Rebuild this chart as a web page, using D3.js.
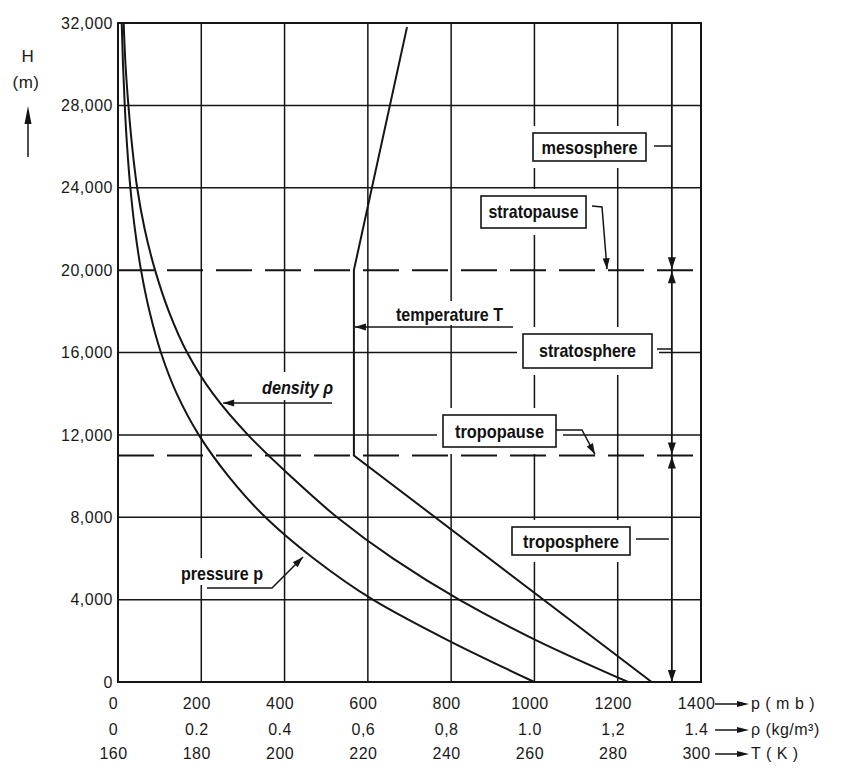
<!DOCTYPE html>
<html>
<head>
<meta charset="utf-8">
<script src="https://cdn.jsdelivr.net/npm/d3@7/dist/d3.min.js"></script>
<style>
  body { margin: 0; background: #fff; }
  svg { display: block; }
  .tick-label { font-family: "Liberation Sans", Arial, sans-serif; font-size: 16px; fill: #1a1a1a; letter-spacing: 0.5px; }
  .note { font-family: "Liberation Sans Narrow", "Liberation Sans", Arial, sans-serif; font-weight: bold; font-size: 19px; fill: #111; }
</style>
</head>
<body>
<div id="chart"></div>
<script>
// ---- data (standard atmosphere) ----
const heights = [0, 2000, 4000, 6000, 8000, 10000, 12000, 14000, 16000, 18000, 20000, 22000, 24000, 26000, 28000, 30000, 32000];
const pressure = [1000, 795, 612, 470, 354, 265, 194, 141, 103, 75.6, 55.3, 40.5, 29.7, 21.9, 16.2, 12.0, 8.9];   // mb
const density = [1.225, 1.007, 0.819, 0.660, 0.526, 0.414, 0.312, 0.228, 0.166, 0.122, 0.089, 0.064, 0.046, 0.034, 0.025, 0.018, 0.0136]; // kg/m3
const tempHeights = [0, 11000, 20000, 31800];
const temperature = [288.15, 216.65, 216.65, 229.4]; // K

const heightTicks = [0, 4000, 8000, 12000, 16000, 20000, 24000, 28000, 32000];
const pressureTicks = [0, 200, 400, 600, 800, 1000, 1200, 1400];
const densityTicks = [0, 0.2, 0.4, 0.6, 0.8, 1.0, 1.2, 1.4];
const densityTickLabels = ["0", "0.2", "0.4", "0,6", "0,8", "1.0", "1,2", "1.4"];
const tempTicks = [160, 180, 200, 220, 240, 260, 280, 300];

const tropopause = 11000;
const stratopause = 20000;
const layerAxisP = 1330; // pressure value where the layer arrows run

// ---- layout ----
const W = 844, H = 782;
const plotL = 118, plotR = 701, plotT = 23, plotB = 682;

const svg = d3.select("#chart").append("svg").attr("width", W).attr("height", H);

const y = d3.scaleLinear().domain([0, 32000]).range([plotB, plotT]);
const xP = d3.scaleLinear().domain([0, 1400]).range([plotL, plotR]);
const xR = d3.scaleLinear().domain([0, 1.4]).range([plotL, plotR]);
const xT = d3.scaleLinear().domain([160, 300]).range([plotL, plotR]);

const ink = "#151515";

// grid
svg.append("g").selectAll("line")
  .data(heightTicks.filter(d => d !== stratopause && d !== 0 && d !== 32000))
  .enter().append("line")
  .attr("x1", plotL).attr("x2", plotR)
  .attr("y1", d => y(d)).attr("y2", d => y(d))
  .attr("stroke", ink).attr("stroke-width", 1.5);

svg.append("g").selectAll("line")
  .data(pressureTicks.filter(d => d !== 0 && d !== 1400))
  .enter().append("line")
  .attr("x1", d => xP(d)).attr("x2", d => xP(d))
  .attr("y1", plotT).attr("y2", plotB)
  .attr("stroke", ink).attr("stroke-width", 1.5);

// frame
svg.append("rect")
  .attr("x", plotL).attr("y", plotT)
  .attr("width", plotR - plotL).attr("height", plotB - plotT)
  .attr("fill", "none").attr("stroke", ink).attr("stroke-width", 2);

// dashed pause lines
svg.append("g").selectAll("line")
  .data([tropopause, stratopause])
  .enter().append("line")
  .attr("x1", plotL).attr("x2", plotR)
  .attr("y1", d => y(d)).attr("y2", d => y(d))
  .attr("stroke", ink).attr("stroke-width", 2)
  .attr("stroke-dasharray", "36,13");

// white halos behind annotations (they cut the grid)
const halos = [
  [527, 126, 126, 42],   // mesosphere
  [475, 189, 118, 46],   // stratopause
  [388, 301, 128, 24],   // temperature T
  [517, 327, 142, 48],   // stratosphere
  [256, 372, 82, 28],    // density
  [437, 408, 126, 46],   // tropopause
  [506, 520, 131, 42],   // troposphere
  [175, 558, 94, 27]     // pressure p
];
svg.append("g").selectAll("rect").data(halos).enter().append("rect")
  .attr("x", d => d[0]).attr("y", d => d[1])
  .attr("width", d => d[2]).attr("height", d => d[3])
  .attr("fill", "#fff");

// curves
const lineP = d3.line().x(d => xP(d[1])).y(d => y(d[0])).curve(d3.curveMonotoneY);
const lineR = d3.line().x(d => xR(d[1])).y(d => y(d[0])).curve(d3.curveMonotoneY);
const lineT = d3.line().x(d => xT(d[1])).y(d => y(d[0]));

const pData = heights.map((h, i) => [h, pressure[i]]).reverse();
const rData = heights.map((h, i) => [h, density[i]]).reverse();
const tData = tempHeights.map((h, i) => [h, temperature[i]]);

[[lineP, pData], [lineR, rData], [lineT, tData]].forEach(([fn, dat]) => {
  svg.append("path").datum(dat).attr("d", fn)
    .attr("fill", "none").attr("stroke", ink).attr("stroke-width", 2);
});

// arrow helper
function head(g, x, yy, ang, len = 12, half = 4) {
  const c = Math.cos(ang), s = Math.sin(ang);
  const bx = x - c * len, by = yy - s * len;
  const p1 = [bx - s * half, by + c * half], p2 = [bx + s * half, by - c * half];
  g.append("path")
    .attr("d", `M${x},${yy}L${p1[0]},${p1[1]}L${p2[0]},${p2[1]}Z`)
    .attr("fill", ink);
}
function leader(pts, withHead = true) {
  const g = svg.append("g");
  g.append("path").attr("d", d3.line()(pts))
    .attr("fill", "none").attr("stroke", ink).attr("stroke-width", 1.5);
  if (withHead) {
    const a = pts[pts.length - 2], b = pts[pts.length - 1];
    head(g, b[0], b[1], Math.atan2(b[1] - a[1], b[0] - a[0]), 11, 3.5);
  }
}

// layer arrows
const ax = xP(layerAxisP);
const lay = svg.append("g");
lay.append("line").attr("x1", ax).attr("x2", ax).attr("y1", plotT).attr("y2", plotB)
  .attr("stroke", ink).attr("stroke-width", 1.8);
head(lay, ax, y(stratopause) - 1, Math.PI / 2);
head(lay, ax, y(stratopause) + 1, -Math.PI / 2);
head(lay, ax, y(tropopause) - 1, Math.PI / 2);
head(lay, ax, y(tropopause) + 1, -Math.PI / 2);
head(lay, ax, plotB, Math.PI / 2);

// boxed labels
const boxes = [
  ["mesosphere", 533, 133, 113, 28, 96, 154],
  ["stratopause", 481, 196, 105, 32, 90, 218],
  ["stratosphere", 523, 334, 129, 34, 97, 357],
  ["tropopause", 443, 415, 113, 32, 89, 438],
  ["troposphere", 512, 527, 118, 28, 96, 548]
];
boxes.forEach(([t, bx, by, bw, bh, tl, base]) => {
  svg.append("rect").attr("x", bx).attr("y", by).attr("width", bw).attr("height", bh)
    .attr("fill", "#fff").attr("stroke", ink).attr("stroke-width", 1.6);
  svg.append("text").attr("class", "note")
    .attr("x", bx + bw / 2 - tl / 2).attr("y", base)
    .attr("textLength", tl).attr("lengthAdjust", "spacingAndGlyphs")
    .text(t);
});

// free labels
svg.append("text").attr("class", "note").attr("x", 396).attr("y", 321)
  .attr("textLength", 107).attr("lengthAdjust", "spacingAndGlyphs").text("temperature T");
svg.append("text").attr("class", "note").attr("x", 262).attr("y", 394)
  .style("font-style", "italic")
  .attr("textLength", 71).attr("lengthAdjust", "spacingAndGlyphs").text("density ρ");
svg.append("text").attr("class", "note").attr("x", 181).attr("y", 580)
  .attr("textLength", 82).attr("lengthAdjust", "spacingAndGlyphs").text("pressure p");

// leaders
leader([[654, 146], [ax, 146]], false);
leader([[657, 349], [ax, 349]], false);
leader([[636, 539], [ax - 3, 539]], false);
leader([[592, 206], [602, 207], [607, y(stratopause) - 1]]);
leader([[556, 430], [582, 430], [595, y(tropopause) - 1]]);
leader([[513, 327], [xT(216.65) + 1, 327]]);
leader([[332, 403], [xR(0.25) + 1, 403]]);
leader([[207, 588], [272, 588], [303, 557]]);

// y axis
const yAxis = svg.append("g").attr("transform", `translate(${plotL},0)`)
  .call(d3.axisLeft(y).tickValues(heightTicks).tickSize(0).tickPadding(5).tickFormat(d3.format(",")));
yAxis.select(".domain").remove();
yAxis.attr("font-size", null).attr("font-family", null);
yAxis.selectAll("text").attr("class", "tick-label");

// y title
svg.append("text").attr("class", "tick-label").attr("x", 28).attr("y", 62)
  .attr("text-anchor", "middle").style("font-size", "17px").text("H");
svg.append("text").attr("class", "tick-label").attr("x", 26).attr("y", 88)
  .attr("text-anchor", "middle").style("font-size", "17px").text("(m)");
const yt = svg.append("g");
yt.append("line").attr("x1", 28).attr("x2", 28).attr("y1", 157).attr("y2", 118)
  .attr("stroke", ink).attr("stroke-width", 1.5);
head(yt, 28, 106, -Math.PI / 2, 18, 3.5);

// bottom axes (three rows)
const rows = [
  [xP, pressureTicks, d => d, 709, "p ( m b )"],
  [xR, densityTicks, (d, i) => densityTickLabels[i], 735, "ρ (kg/m³)"],
  [xT, tempTicks, d => d, 759, "T (  K )"]
];
rows.forEach(([sc, ticks, fmt, base, unit]) => {
  const g = svg.append("g").attr("transform", `translate(0,${base})`)
    .call(d3.axisBottom(sc).tickValues(ticks).tickSize(0).tickFormat(fmt));
  g.select(".domain").remove();
  g.attr("font-size", null).attr("font-family", null);
  g.selectAll("text").attr("class", "tick-label").attr("y", 0).attr("dy", null).attr("dx", -5);
  const ar = svg.append("g");
  ar.append("line").attr("x1", 715).attr("x2", 738).attr("y1", base - 5).attr("y2", base - 5)
    .attr("stroke", ink).attr("stroke-width", 1.5);
  head(ar, 749, base - 5, 0, 12, 3);
  svg.append("text").attr("class", "tick-label").attr("x", 751).attr("y", base).text(unit);
});
</script>
</body>
</html>
